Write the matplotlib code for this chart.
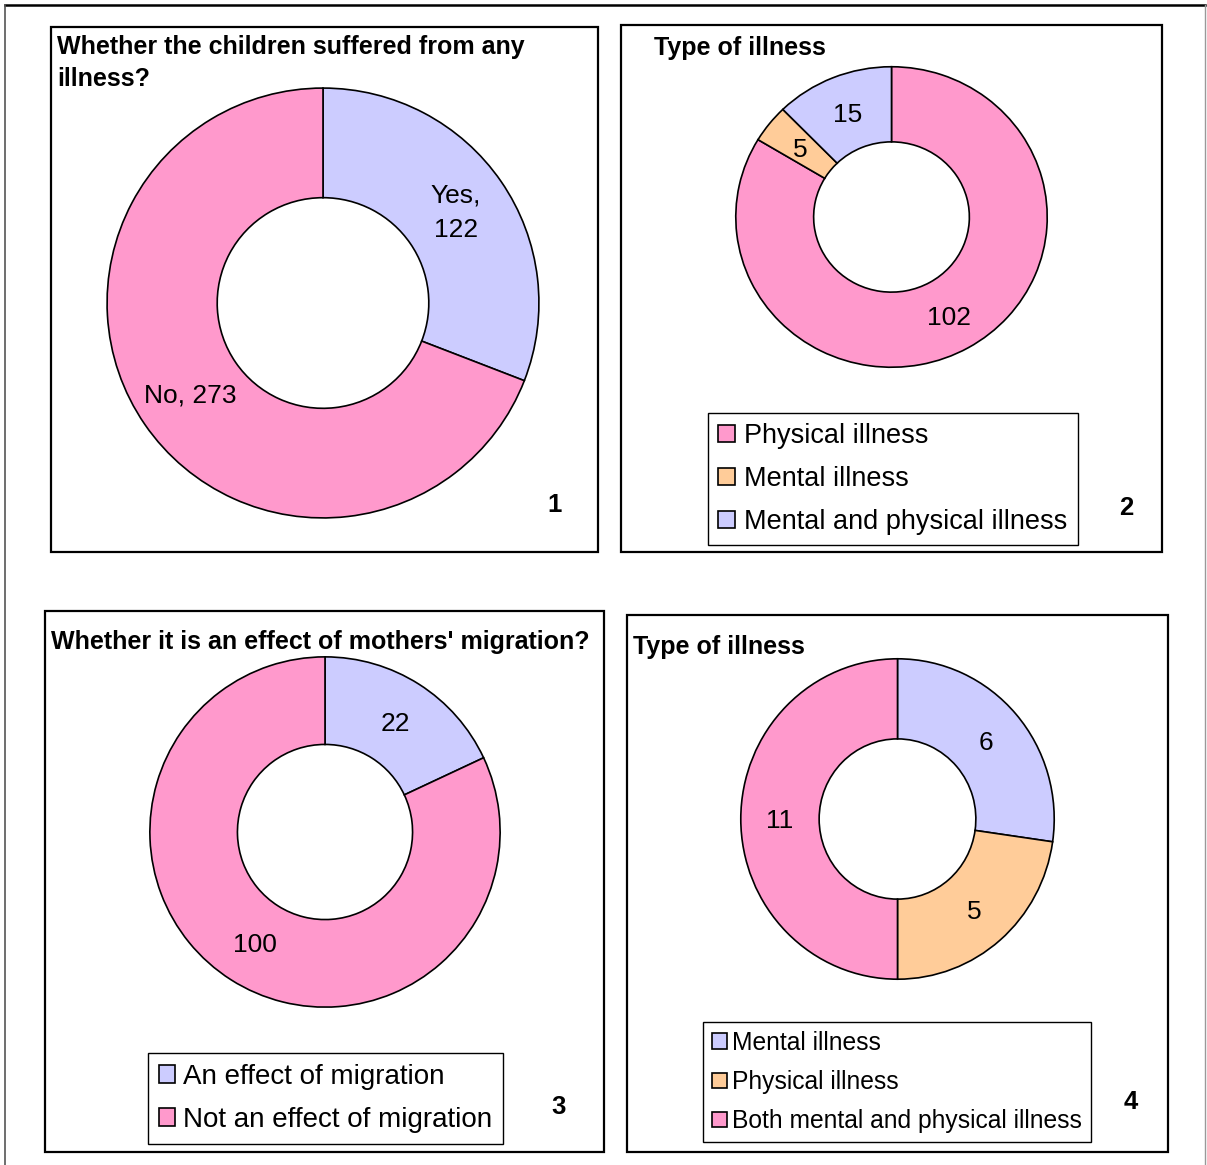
import matplotlib
matplotlib.use("Agg")
import matplotlib.pyplot as plt
from matplotlib.patches import Rectangle

plt.rcParams['font.family'] = ['Liberation Sans', 'DejaVu Sans']

W, H = 1207, 1165

# ---- data ----
illness_labels = ["Yes", "No"]
illness_values = [122, 273]

type_labels = ["Physical illness", "Mental illness", "Mental and physical illness"]
type_values = [102, 5, 15]

effect_labels = ["An effect of migration", "Not an effect of migration"]
effect_values = [22, 100]

type2_labels = ["Mental illness", "Physical illness", "Both mental and physical illness"]
type2_values = [6, 5, 11]

PINK = "#FF99CC"
BLUE = "#CCCCFF"
ORANGE = "#FFCC99"

fig = plt.figure(figsize=(W / 100, H / 100), dpi=100)
fig.patch.set_facecolor("white")

# full-figure overlay in pixel coordinates for frames and titles
bg = fig.add_axes([0, 0, 1, 1], zorder=0)
bg.set_xlim(0, W)
bg.set_ylim(H, 0)
bg.axis("off")

# outer frame
bg.plot([5, 1205], [5, 5], color="black", lw=1.8)
bg.plot([5, 5], [5, H + 5], color="#555555", lw=1.2)
bg.plot([1205, 1205], [5, H + 5], color="#999999", lw=1.0)

# panel boxes (x0, y0, x1, y1)
boxes = [(51, 27, 598, 552), (621, 25, 1162, 552),
         (45, 611, 604, 1152), (627, 615, 1168, 1152)]
for x0, y0, x1, y1 in boxes:
    bg.add_patch(Rectangle((x0, y0), x1 - x0, y1 - y0, fill=False,
                           edgecolor="black", lw=1.6))

title_kw = dict(fontsize=18, fontweight="bold", ha="left", va="baseline")
bg.text(57, 54, "Whether the children suffered from any", **title_kw)
bg.text(57, 86, "illness?", **title_kw)
bg.text(654, 55, "Type of illness", **title_kw)
bg.text(51, 649, "Whether it is an effect of mothers' migration?", **title_kw)
bg.text(633, 654, "Type of illness", **title_kw)

num_kw = dict(fontsize=18.5, fontweight="bold", ha="center", va="baseline")
bg.text(555, 512, "1", **num_kw)
bg.text(1126, 515, "2", **num_kw)
bg.text(559, 1114, "3", **num_kw)
bg.text(1131, 1109, "4", **num_kw)


def donut(cx, cy, rx, ry, values, colors, texts, hole=0.5):
    ax = fig.add_axes([(cx - rx) / W, 1 - (cy + ry) / H, 2 * rx / W, 2 * ry / H],
                      zorder=2)
    wedges, labels = ax.pie(values, colors=colors, startangle=90,
                            counterclock=False, labels=texts,
                            labeldistance=(1 + hole) / 2,
                            wedgeprops=dict(width=1 - hole, edgecolor="black",
                                            lw=1.2),
                            textprops=dict(fontsize=19, ha="center",
                                           va="center_baseline"))
    for t in labels:
        if "\n" in t.get_text():
            t.set_va("center")
            t.set_linespacing(1.55)
    ax.set_aspect("auto")
    ax.set_xlim(-1.005, 1.005)
    ax.set_ylim(-1.005, 1.005)
    return ax, wedges


def legend(ax, wedges, names, x0, y0, fontsize, pad, hpad, spacing):
    leg = ax.legend(wedges, names, loc="upper left",
                    bbox_to_anchor=(x0 / W, 1 - y0 / H),
                    bbox_transform=fig.transFigure, borderaxespad=0,
                    fontsize=fontsize, frameon=True, fancybox=False,
                    edgecolor="black", framealpha=1, labelspacing=spacing,
                    handlelength=0.6, handleheight=0.6, handletextpad=hpad,
                    borderpad=pad)
    leg.get_frame().set_linewidth(1.0)
    return leg


# panel 1
ax1, w1 = donut(323, 303, 217, 216, illness_values, [BLUE, PINK],
                [f"{illness_labels[0]},\n{illness_values[0]}",
                 f"{illness_labels[1]}, {illness_values[1]}"], hole=0.49)

# panel 2
ax2, w2 = donut(891.5, 217, 156.5, 151, type_values, [PINK, ORANGE, BLUE],
                [str(v) for v in type_values])
legend(ax2, w2, type_labels, 708, 413, 19.5, 0.38, 0.36, 0.62)

# panel 3
ax3, w3 = donut(325, 832, 176, 176, effect_values, [BLUE, PINK],
                [str(v) for v in effect_values])
legend(ax3, w3, effect_labels, 148, 1053, 20, 0.38, 0.28, 0.63)

# panel 4
ax4, w4 = donut(897.5, 819, 157.5, 161, type2_values, [BLUE, ORANGE, PINK],
                [str(v) for v in type2_values])
legend(ax4, w4, type2_labels, 703, 1022, 17.7, 0.36, 0.24, 0.62)

fig.savefig("out.png", dpi=100)
